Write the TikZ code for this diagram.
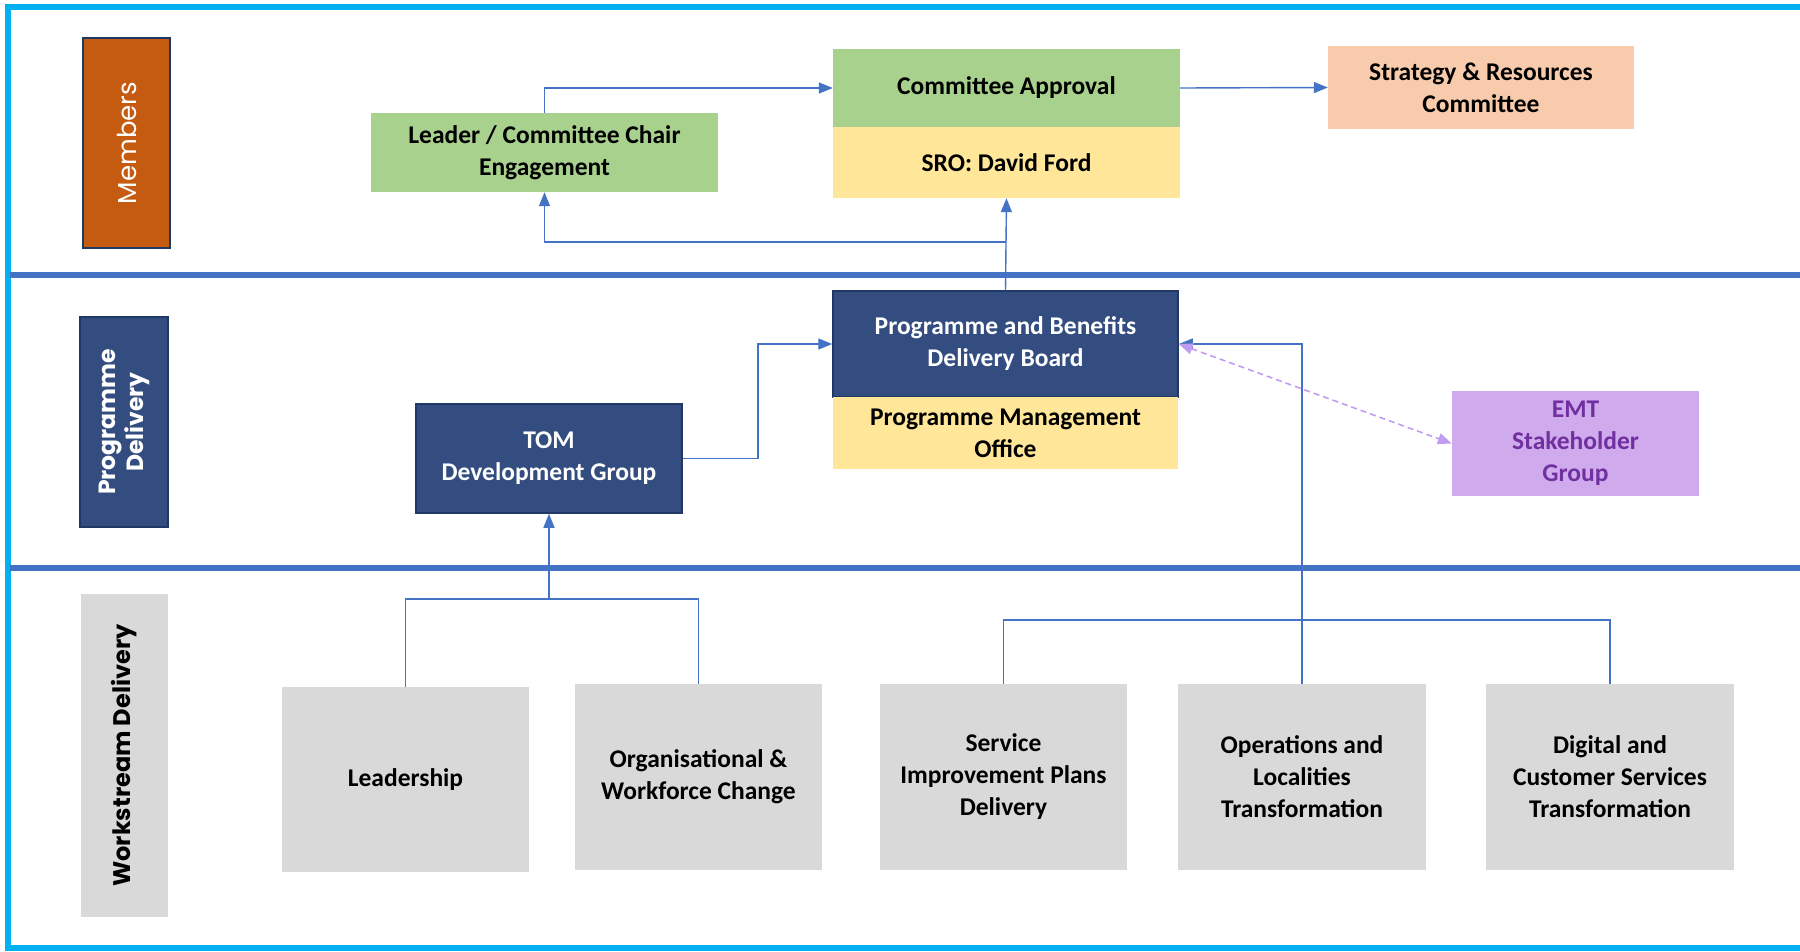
\documentclass[tikz,border=0pt]{standalone}
\usepackage{fontspec}
\setmainfont{Carlito}
\newfontfamily\gothic{Poppins}
\usetikzlibrary{arrows.meta,positioning}
\definecolor{cyanb}{HTML}{00B0F0}
\definecolor{sep}{HTML}{4472C4}
\definecolor{conn}{HTML}{4472C4}
\definecolor{orng}{HTML}{C55A11}
\definecolor{navy}{HTML}{334D80}
\definecolor{navyb}{HTML}{1F3864}
\definecolor{grn}{HTML}{A9D18E}
\definecolor{ylw}{HTML}{FFE699}
\definecolor{peach}{HTML}{F8CBAD}
\definecolor{lilac}{HTML}{CFABEE}
\definecolor{purp}{HTML}{7030A0}
\definecolor{dashp}{HTML}{C29CF0}
\definecolor{gry}{HTML}{D9D9D9}
\tikzset{
  box/.style={draw=none, align=center, inner sep=0pt, font=\fontsize{25.5}{32}\selectfont\bfseries},
  lbl/.style={rotate=90, align=center, inner sep=0pt},
  conline/.style={draw=conn, line width=1.4pt},
  arr/.style={conline, -{Triangle[length=14pt,width=11pt]}},
}
\begin{document}
\begin{tikzpicture}[x=1pt,y=-1pt]
\useasboundingbox (0,0) rectangle (1800,951);
\fill[white] (0,0) rectangle (1800,951);
% outer border
\draw[cyanb, line width=6pt] (1820,7) -- (8,7) -- (8,948) -- (1820,948);
% separators
\draw[sep, line width=6pt] (10,275) -- (1820,275);
\draw[sep, line width=6pt] (10,568) -- (1820,568);
% left labels
\node[lbl, fill=orng, draw=navyb, line width=1.5pt, minimum width=210pt, minimum height=87pt, text=white, font=\gothic\fontsize{26}{32}\selectfont] (mem) at (126.5,143) {Members};
\node[lbl, fill=navy, draw=navyb, line width=1.5pt, minimum width=210pt, minimum height=88pt, text=white, font=\gothic\bfseries\fontsize{23.5}{28}\selectfont] (pd) at (124,422) {Programme\\Delivery};
\node[lbl, fill=gry, minimum width=323pt, minimum height=87pt, text=black, font=\gothic\bfseries\fontsize{24}{28}\selectfont] (ws) at (124.5,755.5) {Workstream Delivery};
% members boxes
\node[box, fill=grn, minimum width=347pt, minimum height=79pt] (leader) at (544.5,152.5) {Leader / Committee Chair\\Engagement};
\node[box, fill=grn, minimum width=347pt, minimum height=78pt] (ca) at (1006.5,88) {Committee Approval};
\node[box, fill=ylw, minimum width=347pt, minimum height=71pt] (sro) at (1006.5,162.5) {SRO: David Ford};
\node[box, fill=peach, minimum width=306pt, minimum height=83pt] (src) at (1481,87.5) {Strategy \& Resources\\Committee};
% programme delivery
\node[box, fill=navy, draw=navyb, line width=1.5pt, minimum width=345pt, minimum height=106pt, text=white] (pbdb) at (1005.5,344) {Programme and Benefits\\Delivery Board};
\node[box, fill=ylw, minimum width=345pt, minimum height=72pt] (pmo) at (1005.5,433) {Programme Management\\Office};
\node[box, fill=lilac, minimum width=247pt, minimum height=105pt, text=purp] (emt) at (1575.5,443.5) {EMT\\Stakeholder\\Group};
\node[box, fill=navy, draw=navyb, line width=1.5pt, minimum width=266pt, minimum height=109pt, text=white] (tom) at (549,458.5) {TOM\\Development Group};
% workstreams
\node[box, fill=gry, minimum width=247pt, minimum height=185pt] (lead) at (405.5,779.5) {Leadership};
\node[box, fill=gry, minimum width=247pt, minimum height=186pt] (org) at (698.5,777) {Organisational \&\\Workforce Change};
\node[box, fill=gry, minimum width=247pt, minimum height=186pt] (sip) at (1003.5,777) {Service\\Improvement Plans\\Delivery};
\node[box, fill=gry, minimum width=248pt, minimum height=186pt] (ops) at (1302,777) {Operations and\\Localities\\Transformation};
\node[box, fill=gry, minimum width=248pt, minimum height=186pt] (dig) at (1610,777) {Digital and\\Customer Services\\Transformation};
% connectors
\draw[arr] (leader.north) |- (ca.west);
\draw[arr] (ca.east) -- (src.west);
\draw[arr] (pbdb.north) -- (sro.south);
\coordinate (j1) at (1006,242);
\draw[arr] (j1) -| (leader.south);
\draw[arr] (tom.east) -- (758,458.5) |- (pbdb.west);
\draw[arr] (ops.north) |- (pbdb.east);
\draw[dashp, line width=1.6pt, dash pattern=on 6pt off 4pt, {Triangle[length=14pt,width=11pt]}-{Triangle[length=14pt,width=11pt]}] (pbdb.east) -- (emt.west);
\coordinate (j2) at (549,599);
\draw[conline] (lead.north) |- (j2) -| (org.north);
\draw[arr] (j2) -- (tom.south);
\draw[conline] (sip.north) -- ++(0,-64) -| (dig.north);
\end{tikzpicture}
\end{document}
